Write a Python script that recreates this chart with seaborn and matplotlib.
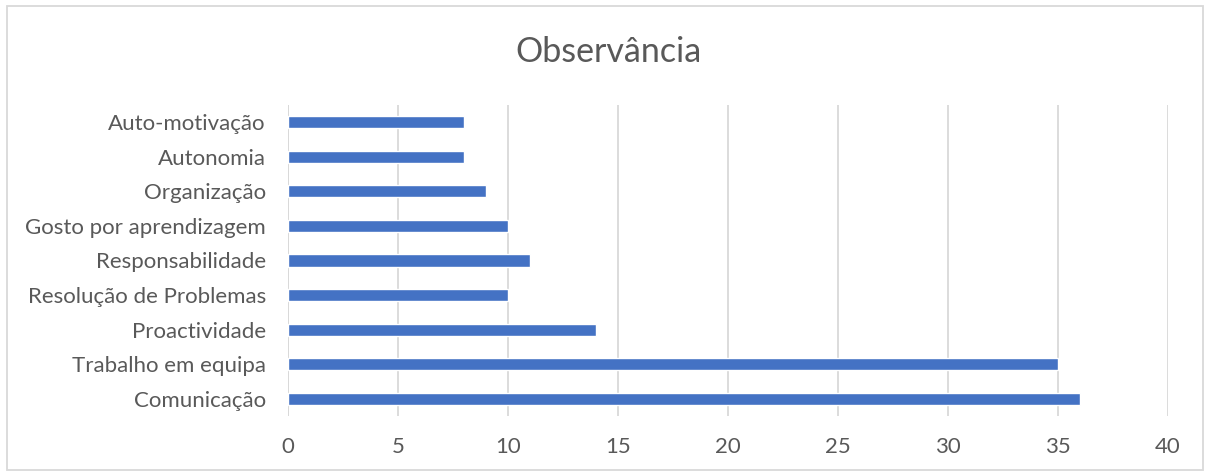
import matplotlib
matplotlib.use("Agg")
import matplotlib.pyplot as plt
import seaborn as sns
import pandas as pd
from matplotlib.patches import Rectangle

categories = ["Auto-motivação", "Autonomia", "Organização", "Gosto por aprendizagem",
              "Responsabilidade", "Resolução de Problemas", "Proactividade",
              "Trabalho em equipa", "Comunicação"]
values = [8, 8, 9, 10, 11, 10, 14, 35, 36]
x_ticks = [0, 5, 10, 15, 20, 25, 30, 35, 40]
title = "Observância"

sns.set_theme(style="white")
plt.rcParams["font.family"] = ["Lato", "DejaVu Sans"]

df = pd.DataFrame({"Competência": categories, "Observações": values})

fig = plt.figure(figsize=(12.09, 4.74), dpi=100)
ax = fig.add_axes([0.2382, 0.1224, 0.9661 - 0.2382, 0.7785 - 0.1224])

sns.barplot(data=df, y="Competência", x="Observações", orient="h",
            color="#4472C4", saturation=1, width=0.35, ax=ax, zorder=3)

ax.set_xlim(0, 40)
ax.set_ylim(len(categories) - 0.5, -0.5)
ax.set_xticks(x_ticks)
ax.xaxis.grid(True, color="#D9D9D9", linewidth=1.3, zorder=0)
ax.yaxis.grid(False)
for s in ax.spines.values():
    s.set_visible(False)
ax.axvline(0, color="#D9D9D9", linewidth=1.3, zorder=1)
ax.set_xlabel("")
ax.set_ylabel("")
ax.tick_params(axis="both", length=0, labelsize=16, labelcolor="#595959")
ax.tick_params(axis="x", pad=15)
ax.tick_params(axis="y", pad=16)

fig.text(0.503, 0.89, title, ha="center", va="center", fontsize=24.5, color="#595959")

fig.patches.append(Rectangle((7 / 1209, 4 / 474), 1196 / 1209, 464 / 474,
                             transform=fig.transFigure, fill=False,
                             edgecolor="#D9D9D9", linewidth=1.3))

fig.savefig("out.png", dpi=100)
